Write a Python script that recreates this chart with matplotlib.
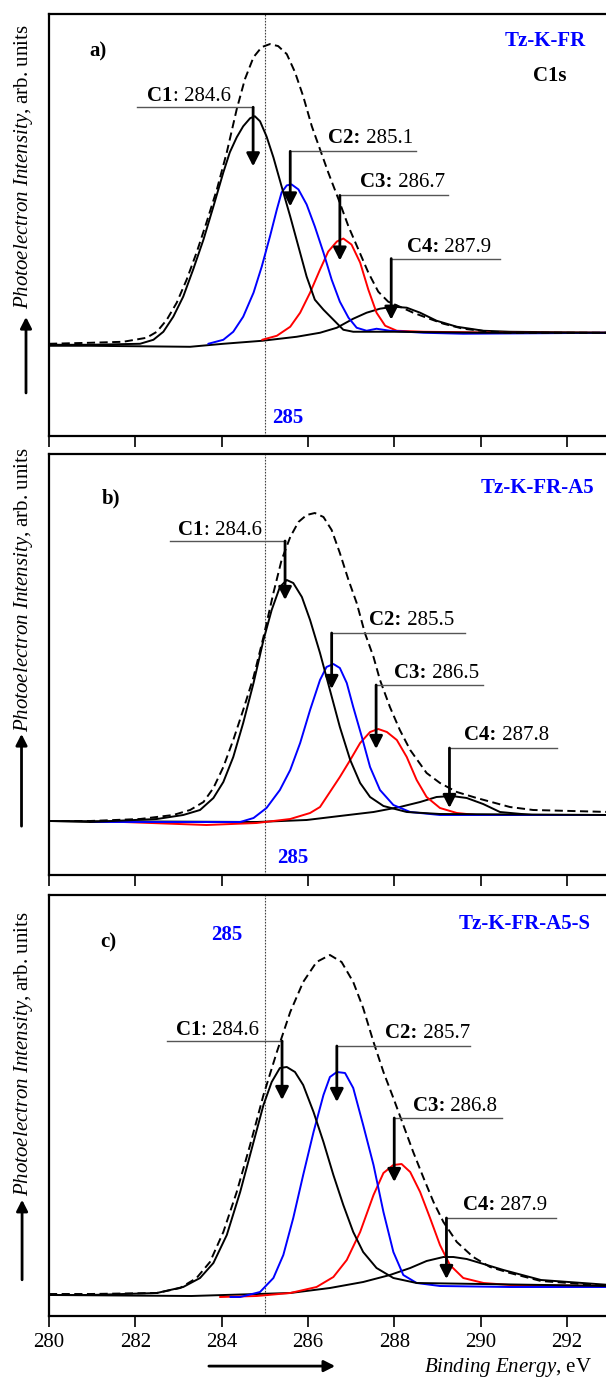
import matplotlib
matplotlib.use("Agg")
import matplotlib.pyplot as plt

plt.rcParams['font.family'] = ['Liberation Serif', 'DejaVu Serif']
plt.rcParams['mathtext.fontset'] = 'custom'
plt.rcParams['mathtext.rm'] = 'Liberation Serif'
plt.rcParams['mathtext.it'] = 'Liberation Serif:italic'
plt.rcParams['mathtext.bf'] = 'Liberation Serif:bold'

# ---- data (binding energy in eV, intensity in arb. units) ----
# panel a) Tz-K-FR
a_env_x = [280.0, 280.95, 281.72, 282.26, 282.5, 282.73, 282.96, 283.19, 283.42, 283.65, 283.89,
           284.12, 284.35, 284.54, 284.74, 284.93, 285.12, 285.31, 285.51, 285.7, 285.89, 286.09,
           286.28, 286.47, 286.71, 286.94, 287.17, 287.4, 287.63, 287.86, 288.13, 288.44, 288.75,
           289.14, 289.6, 290.22, 290.68, 293.0]
a_env_y = [92, 93, 94, 98, 104, 116, 133, 156, 183, 213, 246, 283, 326, 356, 378, 388, 391, 389, 381,
           363, 339, 309, 286, 263, 236, 209, 186, 163, 144, 134, 129, 123, 118, 112, 107, 104, 103,
           103]
a_c1_x = [280.0, 280.95, 282.11, 282.42, 282.65, 282.88, 283.11, 283.34, 283.58, 283.81, 284.04,
          284.19, 284.35, 284.5, 284.66, 284.77, 284.89, 285.04, 285.2, 285.39, 285.59, 285.78,
          285.97, 286.16, 286.36, 286.59, 286.82, 287.05, 288.0, 290.0, 293.0]
a_c1_y = [91, 91, 92, 96, 104, 119, 139, 166, 196, 229, 263, 283, 298, 309, 317, 319, 314, 299, 278,
          249, 219, 189, 159, 136, 126, 116, 106, 104, 104, 103, 103]
a_c2_x = [283.69, 284.04, 284.27, 284.5, 284.74, 284.93, 285.12, 285.28, 285.39, 285.51, 285.62,
          285.78, 285.97, 286.16, 286.36, 286.55, 286.74, 286.94, 287.13, 287.36, 287.59, 287.9,
          288.68, 289.6, 293.0]
a_c2_y = [92, 96, 104, 119, 143, 169, 199, 226, 243, 250, 251, 246, 231, 209, 183, 156, 134, 118, 108,
          105, 107, 105, 103, 102, 103]
a_c3_x = [284.94, 285.28, 285.59, 285.82, 286.05, 286.28, 286.47, 286.67, 286.82, 287.01, 287.21,
          287.4, 287.59, 287.79, 288.06, 288.68, 290.68, 293.0]
a_c3_y = [96, 100, 109, 123, 143, 166, 184, 194, 197, 191, 173, 146, 123, 110, 105, 104, 103, 103]
a_c4_x = [280.0, 280.95, 283.27, 284.04, 284.94, 285.74, 286.28, 286.67, 287.05, 287.36, 287.67,
          287.98, 288.29, 288.6, 288.98, 289.45, 290.07, 290.68, 293.0]
a_c4_y = [90, 90, 89, 92, 95, 99, 103, 108, 117, 123, 127, 129, 128, 123, 115, 109, 105, 104, 103]
a_peaks = ['284.6', '285.1', '286.7', '287.9']
a_peak_x = [284.73, 285.59, 286.74, 287.93]

# panel b) Tz-K-FR-A5
b_env_x = [280.0, 280.95, 282.11, 282.88, 283.27, 283.58, 283.81, 284.04, 284.27, 284.5, 284.74,
           284.97, 285.2, 285.39, 285.59, 285.78, 285.97, 286.16, 286.36, 286.55, 286.74, 286.94,
           287.13, 287.32, 287.52, 287.67, 287.9, 288.13, 288.37, 288.75, 289.06, 289.45, 289.91,
           290.68, 291.22, 293.0]
b_env_y = [54, 54, 56, 60, 65, 73, 87, 108, 135, 165, 198, 238, 282, 315, 338, 353, 360, 362, 358,
           345, 322, 295, 272, 242, 218, 195, 168, 145, 125, 102, 92, 83, 77, 68, 65, 63]
b_c1_x = [280.0, 280.95, 282.5, 283.11, 283.5, 283.81, 284.04, 284.27, 284.5, 284.74, 284.97, 285.16,
          285.35, 285.51, 285.66, 285.86, 286.05, 286.28, 286.51, 286.74, 286.98, 287.21, 287.44,
          287.75, 288.29, 289.06, 293.0]
b_c1_y = [54, 53, 56, 60, 65, 77, 93, 118, 152, 192, 235, 265, 288, 295, 292, 278, 255, 222, 185, 148,
          115, 92, 78, 69, 63, 61, 60]
b_c2_x = [280.95, 284.43, 284.74, 285.04, 285.35, 285.59, 285.82, 286.05, 286.28, 286.43, 286.59,
          286.74, 286.9, 287.05, 287.25, 287.44, 287.67, 287.98, 288.37, 289.06, 293.0]
b_c2_y = [53, 53, 57, 67, 85, 105, 132, 165, 195, 208, 211, 207, 192, 168, 138, 108, 85, 70, 63, 60,
          60]
b_c3_x = [281.0, 281.72, 283.65, 284.81, 285.59, 286.05, 286.28, 286.51, 286.74, 286.98, 287.21,
          287.44, 287.63, 287.83, 288.06, 288.29, 288.52, 288.75, 289.06, 289.45, 289.91, 293.0]
b_c3_y = [53, 53, 50, 52, 56, 62, 68, 83, 98, 115, 132, 143, 146, 143, 135, 118, 95, 78, 67, 62, 60,
          60]
b_c4_x = [280.0, 284.81, 285.97, 286.74, 287.52, 288.13, 288.6, 288.98, 289.33, 289.68, 290.06,
          290.45, 291.2, 293.0]
b_c4_y = [54, 53, 55, 59, 63, 68, 73, 78, 79, 77, 71, 63, 60, 60]
b_peaks = ['284.6', '285.5', '286.5', '287.8']
b_peak_x = [285.47, 286.55, 287.58, 289.28]

# panel c) Tz-K-FR-A5-S
c_env_x = [280.0, 280.95, 282.5, 283.04, 283.42, 283.73, 284.04, 284.35, 284.66, 284.97, 285.28,
           285.59, 285.89, 286.2, 286.51, 286.78, 287.05, 287.28, 287.52, 287.75, 287.98, 288.21,
           288.44, 288.68, 288.91, 289.14, 289.45, 289.83, 290.22, 290.68, 291.4, 293.0]
c_env_y = [22, 22, 23, 28, 38, 54, 84, 124, 171, 221, 264, 304, 334, 354, 361, 354, 334, 308, 274,
           244, 218, 191, 164, 138, 114, 94, 74, 59, 49, 43, 35, 30]
c_c1_x = [280.0, 280.95, 282.5, 283.11, 283.5, 283.81, 284.12, 284.43, 284.74, 284.97, 285.16,
          285.35, 285.51, 285.7, 285.89, 286.13, 286.36, 286.59, 286.82, 287.05, 287.28, 287.59,
          287.98, 288.52, 293.0]
c_c1_y = [21, 21, 23, 29, 38, 53, 81, 124, 174, 211, 234, 248, 249, 244, 231, 204, 174, 141, 111, 84,
          64, 48, 38, 33, 30]
c_c2_x = [284.2, 284.43, 284.89, 285.2, 285.43, 285.66, 285.89, 286.13, 286.36, 286.51, 286.67,
          286.86, 287.05, 287.28, 287.52, 287.75, 287.98, 288.21, 288.52, 289.06, 290.68, 293.0]
c_c2_y = [19, 19, 24, 38, 61, 98, 141, 184, 221, 239, 244, 243, 228, 191, 151, 104, 64, 41, 33, 30,
          29, 29]
c_c3_x = [283.96, 284.81, 285.59, 286.2, 286.59, 286.9, 287.21, 287.52, 287.75, 287.98, 288.17,
          288.37, 288.6, 288.83, 289.06, 289.29, 289.6, 290.07, 290.68, 293.0]
c_c3_y = [19, 20, 23, 29, 39, 56, 84, 121, 143, 151, 152, 144, 124, 98, 71, 51, 38, 33, 31, 30]
c_c4_x = [280.0, 283.3, 285.59, 286.51, 287.28, 287.9, 288.37, 288.75, 289.14, 289.37, 289.68,
          290.07, 290.53, 291.4, 293.0]
c_c4_y = [21, 20, 23, 28, 34, 41, 48, 55, 59, 59, 57, 52, 46, 36, 31]
c_peaks = ['284.6', '285.7', '286.8', '287.9']
c_peak_x = [285.40, 286.67, 288.0, 289.21]

comp_names = ['C1', 'C2', 'C3', 'C4']
sample_names = ['Tz-K-FR', 'Tz-K-FR-A5', 'Tz-K-FR-A5-S']
panel_tags = ['a)', 'b)', 'c)']
ref_energy = 285
xticks = [280, 282, 284, 286, 288, 290, 292]

# ---- layout (data coords) for call-outs: text x, text baseline, line y, far end of line, arrow tip ----
a_callout = [(282.28, 334, 328, 282.05, 269), (286.47, 292, 284, 288.51, 229),
             (287.21, 248, 240, 289.25, 175), (288.29, 184, 177, 290.44, 116)]
b_callout = [(283.0, 340, 334, 282.8, 275), (287.42, 250, 242, 289.64, 186),
             (288.0, 197, 190, 290.06, 126), (289.62, 135, 127, 291.77, 67)]
c_callout = [(282.94, 281, 275, 282.74, 216), (287.79, 278, 270, 289.76, 214),
             (288.43, 205, 198, 290.49, 134), (289.59, 106, 98, 291.74, 37)]

W, H = 606, 1378
fig = plt.figure(figsize=(W / 100, H / 100), dpi=100)

# axes boxes in pixels: top, bottom
boxes = [(14, 436), (454, 875), (895, 1316)]
x_left, x_right = 49, 610

FS = 15
ARROW = '-|>,head_length=0.55,head_width=0.28'


def add_axes(top, bottom):
    return fig.add_axes([x_left / W, (H - bottom) / H, (x_right - x_left) / W, (bottom - top) / H])


def draw_panel(ax, curves, peaks, peak_x, callout, tag, tag_pos, name, name_pos, ref_pos,
               ylab_y, arrow_y, arrow_x, show_labels=False):
    env_x, env_y, c1x, c1y, c2x, c2y, c3x, c3y, c4x, c4y = curves
    ax.set_xlim(280, 293)
    ax.set_ylim(0, 421)
    ax.axvline(ref_energy, color='#444444', lw=0.8, ls=(0, (1.5, 1.2)), zorder=1)
    kw = dict(lw=1.4, solid_joinstyle='round', solid_capstyle='round')
    ax.plot(c4x, c4y, color='black', zorder=3, **kw)
    ax.plot(c3x, c3y, color='#ff0000', zorder=3, **kw)
    ax.plot(c2x, c2y, color='#0000ff', zorder=3, **kw)
    ax.plot(c1x, c1y, color='black', zorder=4, **kw)
    ax.plot(env_x, env_y, color='black', lw=1.4, ls=(0, (4.2, 2.3)), zorder=5)

    for i, (tx, ty, ly, far, tip) in enumerate(callout):
        px = peak_x[i]
        ax.plot([far, px], [ly, ly], color='#555555', lw=1.0, zorder=6)
        ax.annotate('', xy=(px, tip), xytext=(px, ly),
                    arrowprops=dict(arrowstyle=ARROW, color='black', lw=2.0, shrinkA=0,
                                    shrinkB=0, mutation_scale=14), zorder=7)
        if i == 0:
            bold, rest = comp_names[i], ': ' + peaks[i]
        else:
            bold, rest = comp_names[i] + ':', ' ' + peaks[i]
        t1 = ax.text(tx, ty, bold, fontsize=FS, fontweight='bold', va='baseline', ha='left', zorder=8)
        ax.annotate(rest, xy=(1, 0), xycoords=t1, fontsize=FS, va='bottom', ha='left', zorder=8)

    ax.text(tag_pos[0], tag_pos[1], tag, fontsize=FS, fontweight='bold', va='center', ha='left')
    ax.text(name_pos[0], name_pos[1], name, fontsize=FS, fontweight='bold', color='#0000ff',
            va='center', ha='right')
    ax.text(ref_pos[0], ref_pos[1], str(ref_energy), fontsize=FS, fontweight='bold',
            color='#0000ff', va='center', ha='left')

    # y label with arrow
    ax.annotate('', xy=(arrow_x, arrow_y[1]), xytext=(arrow_x, arrow_y[0]), xycoords='axes fraction',
                arrowprops=dict(arrowstyle=ARROW, color='black', lw=2.0, shrinkA=0, shrinkB=0,
                                mutation_scale=12))
    ax.text(-0.046, ylab_y, r'$\mathit{Photoelectron\ Intensity}$, arb. units', fontsize=FS,
            rotation=90, transform=ax.transAxes, ha='center', va='bottom')

    ax.set_xticks(xticks)
    ax.set_yticks([])
    ax.tick_params(axis='x', direction='out', length=8, width=1.2, pad=4, labelsize=FS,
                   labelbottom=show_labels)
    for side in ['left', 'bottom', 'top']:
        ax.spines[side].set_linewidth(1.6)
    ax.spines['right'].set_visible(False)


ax_a = add_axes(*boxes[0])
draw_panel(ax_a, (a_env_x, a_env_y, a_c1_x, a_c1_y, a_c2_x, a_c2_y, a_c3_x, a_c3_y, a_c4_x, a_c4_y),
           a_peaks, a_peak_x, a_callout, panel_tags[0], (280.93, 384), sample_names[0], (292.45, 394),
           (285.17, 18), 0.30, (0.102, 0.282), -0.041)
ax_a.text(291.61, 359, 'C1s', fontsize=FS, fontweight='bold', va='center', ha='center')

ax_b = add_axes(*boxes[1])
draw_panel(ax_b, (b_env_x, b_env_y, b_c1_x, b_c1_y, b_c2_x, b_c2_y, b_c3_x, b_c3_y, b_c4_x, b_c4_y),
           b_peaks, b_peak_x, b_callout, panel_tags[1], (281.23, 377), sample_names[1], (292.63, 387),
           (285.28, 17), 0.34, (0.116, 0.335), -0.049)

ax_c = add_axes(*boxes[2])
draw_panel(ax_c, (c_env_x, c_env_y, c_c1_x, c_c1_y, c_c2_x, c_c2_y, c_c3_x, c_c3_y, c_c4_x, c_c4_y),
           c_peaks, c_peak_x, c_callout, panel_tags[2], (281.18, 374), sample_names[2], (292.54, 392),
           (283.75, 381), 0.285, (0.086, 0.276), -0.048, show_labels=True)

# x label with arrow
ax_c.annotate('', xy=(0.51, -0.119), xytext=(0.285, -0.119), xycoords='axes fraction',
              arrowprops=dict(arrowstyle=ARROW, color='black', lw=2.0, shrinkA=0, shrinkB=0,
                              mutation_scale=12), annotation_clip=False)
ax_c.text(0.968, -0.1235, r'$\mathit{Binding\ Energy}$, eV', fontsize=FS, transform=ax_c.transAxes,
          ha='right', va='center')

fig.savefig('out.png', dpi=100)
